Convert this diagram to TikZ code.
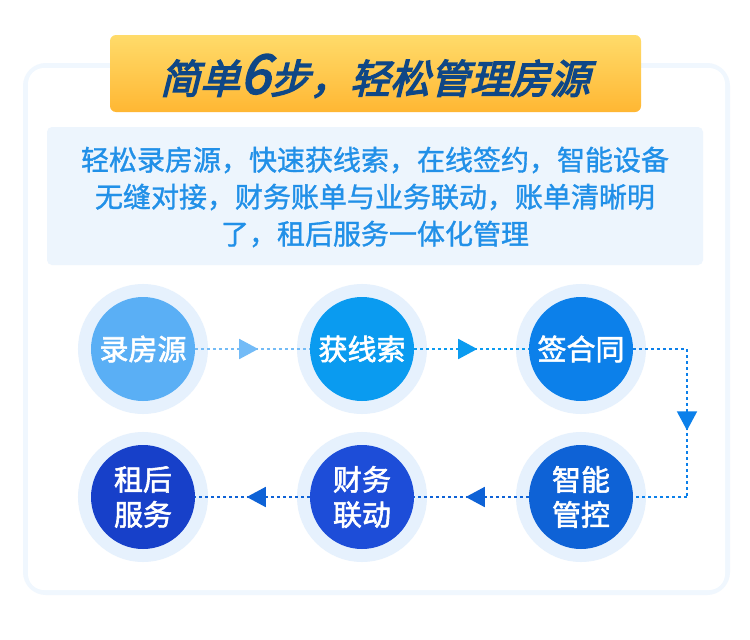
\documentclass[tikz,border=0pt]{standalone}
\usepackage{fontspec}
\usetikzlibrary{positioning,arrows.meta,decorations.markings}
\newfontfamily\cjk{Noto Sans CJK SC}
\newfontfamily\cjkmid[FakeBold=1.2]{Noto Sans CJK SC}
\newfontfamily\cjkbold[FakeBold=2]{Noto Sans CJK SC}
\newfontfamily\cjkslant[FakeSlant=0.25,FakeBold=3.5]{Noto Sans CJK SC}
\definecolor{halo}{HTML}{E6F1FD}
\definecolor{boxbg}{HTML}{EDF5FD}
\definecolor{boxtext}{HTML}{2190E8}
\definecolor{titletext}{HTML}{0F4786}
\definecolor{stepA}{HTML}{5AAFF5}
\definecolor{stepB}{HTML}{0A9BF0}
\definecolor{stepC}{HTML}{0C80EA}
\definecolor{stepD}{HTML}{0E62D6}
\definecolor{stepE}{HTML}{1D4DD8}
\definecolor{stepF}{HTML}{1740C9}
\tikzset{
  stepnode/.style={circle,minimum size=104pt,inner sep=0pt,fill=#1,text=white,
    align=center,font=\cjkbold\fontsize{29}{35}\selectfont,
    preaction={draw=halo,line width=26pt}},
  flow/.style={draw=#1,line width=1.6pt,dash pattern=on 3pt off 3pt,
    postaction={decorate},
    decoration={markings,mark=at position .55 with {\arrow[#1]{Triangle[length=19pt,width=20pt]}}}}
}
\begin{document}
\begin{tikzpicture}[x=1pt,y=-1pt]
\useasboundingbox (0,0) rectangle (750,640);
% card
\fill[white] (0,0) rectangle (750,640);
\draw[halo!60,line width=10pt,rounded corners=18pt] (28,68) rectangle (725,590);
\fill[white,rounded corners=16pt] (28,68) rectangle (725,590);
% title
\shade[top color={rgb,255:red,255;green,219;blue,106},bottom color={rgb,255:red,255;green,183;blue,51},rounded corners=6pt]
  (110,35) rectangle (641,112);
\node[text=titletext,font=\cjkslant\fontsize{40}{44}\selectfont] (title) at (375,76)
  {简单\fontsize{54}{54}\selectfont6\fontsize{40}{44}\selectfont 步，轻松管理房源};
% intro
\fill[boxbg,rounded corners=5pt] (47,127) rectangle (703,265);
\node[text=boxtext,align=center,font=\cjkmid\fontsize{28}{37}\selectfont] (intro) at (375,197)
  {轻松录房源，快速获线索，在线签约，智能设备\\无缝对接，财务账单与业务联动，账单清晰明\\了，租后服务一体化管理};
% steps
\node[stepnode=stepA] (s1) at (143,349) {录房源};
\node[stepnode=stepB] (s2) at (362,349) {获线索};
\node[stepnode=stepC] (s3) at (581,349) {签合同};
\node[stepnode=stepD] (s4) at (581,497) {智能\\管控};
\node[stepnode=stepE] (s5) at (362,497) {财务\\联动};
\node[stepnode=stepF] (s6) at (143,497) {租后\\服务};
\coordinate (c1) at (687,349);
\coordinate (c2) at (687,497);
% connectors
\path[flow=stepA!85] (s1.east) -- (s2.west);
\path[flow=stepB] (s2.east) -- (s3.west);
\path[draw=stepC,line width=1.6pt,dash pattern=on 3pt off 3pt] (s3.east) -- (c1);
\path[flow=stepC] (c1) -- (c2);
\path[draw=stepC,line width=1.6pt,dash pattern=on 3pt off 3pt] (c2) -- (s4.east);
\path[flow=stepD] (s4.west) -- (s5.east);
\path[flow=stepD] (s5.west) -- (s6.east);
\end{tikzpicture}
\end{document}
